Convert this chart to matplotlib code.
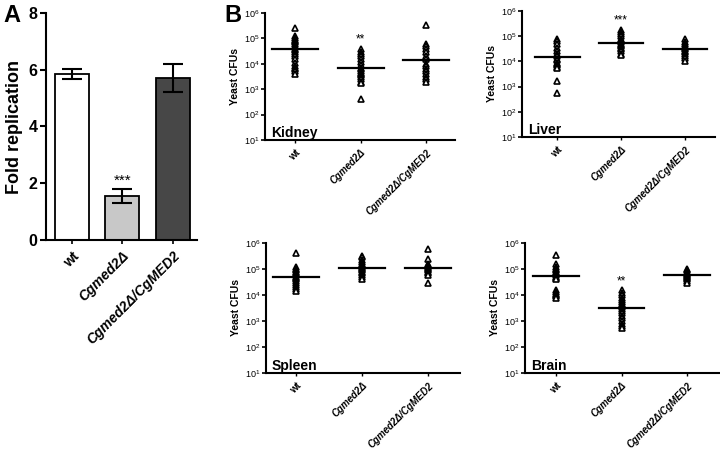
import numpy as np
import matplotlib
matplotlib.use("Agg")
import matplotlib.pyplot as plt
from matplotlib.ticker import FixedLocator, NullLocator

plt.rcParams['font.family'] = ['Liberation Sans', 'DejaVu Sans']
plt.rcParams['mathtext.fontset'] = 'custom'
plt.rcParams['mathtext.rm'] = 'Liberation Sans'

# Panel A: fold replication
strains = ['wt', 'Cgmed2Δ', 'Cgmed2Δ/CgMED2']
fold_mean = [5.85, 1.55, 5.7]
fold_err = [0.18, 0.25, 0.5]
bar_colors = ['white', '#c8c8c8', '#474747']

# Panel B: yeast CFUs per organ (wt, Cgmed2Δ, Cgmed2Δ/CgMED2)
kidney = [
    [2.6e5, 1.2e5, 1e5, 9e4, 8e4, 7e4, 6e4, 5e4, 4.5e4, 4e4, 3.5e4, 3e4, 2.5e4, 2e4,
     1.5e4, 1.1e4, 8e3, 7e3, 6e3, 5e3, 4e3],
    [4e4, 3e4, 2.5e4, 2e4, 1.5e4, 1.2e4, 9e3, 7e3, 6e3, 5e3, 4.5e3, 4e3, 3.5e3, 3e3,
     2.5e3, 2e3, 1.7e3, 4.2e2],
    [3.4e5, 6e4, 5e4, 4e4, 3e4, 2e4, 1.5e4, 1e4, 8e3, 6e3, 5e3, 4e3, 3e3, 2.5e3, 2e3],
]
liver = [
    [8e4, 6.5e4, 5e4, 3.5e4, 2.5e4, 2e4, 1.6e4, 1.3e4, 1.1e4, 9e3, 8e3, 7e3, 6e3, 5.5e3,
     1.7e3, 5.5e2],
    [1.8e5, 1.5e5, 1.2e5, 1e5, 8e4, 7e4, 6e4, 5e4, 4.5e4, 4e4, 3.5e4, 3e4, 2.5e4, 2e4, 1.8e4],
    [8e4, 6e4, 5e4, 4e4, 3.5e4, 3e4, 2.7e4, 2.4e4, 2e4, 1.7e4, 1.4e4, 1e4],
]
spleen = [
    [4.2e5, 1.2e5, 1e5, 9e4, 8e4, 7e4, 6e4, 5e4, 4.5e4, 4e4, 3.5e4, 3e4, 2.5e4, 2e4,
     1.7e4, 1.4e4],
    [3.3e5, 2.8e5, 2.3e5, 1.9e5, 1.6e5, 1.4e5, 1.2e5, 1.1e5, 1e5, 9e4, 8e4, 7e4, 6e4,
     5e4, 4.3e4],
    [6e5, 2.5e5, 1.6e5, 1.4e5, 1.2e5, 1.1e5, 1e5, 9e4, 8e4, 7e4, 6e4, 3e4],
]
brain = [
    [3.6e5, 1.6e5, 1.2e5, 1e5, 9e4, 8e4, 7e4, 6e4, 5e4, 4.5e4, 4e4, 1.5e4, 1.3e4, 1.1e4,
     1e4, 9e3, 8e3],
    [1.5e4, 1.2e4, 1e4, 8e3, 6.5e3, 5.5e3, 4.5e3, 4e3, 3.5e3, 3e3, 2.5e3, 2e3, 1.6e3,
     1.3e3, 1e3, 8e2, 6.5e2, 5.5e2],
    [1e5, 9e4, 8e4, 7e4, 6.5e4, 6e4, 5.5e4, 5e4, 4.5e4, 4e4, 3.5e4, 2.8e4],
]
kidney_line = [3.8e4, 6.9e3, 1.45e4]
liver_line = [1.45e4, 5.3e4, 3.1e4]
spleen_line = [5e4, 1.1e5, 1.13e5]
brain_line = [5.2e4, 3.3e3, 6.1e4]
kidney_sig = ['', '**', '']
liver_sig = ['', '***', '']
spleen_sig = ['', '', '']
brain_sig = ['', '**', '']

W, H = 720, 451
fig = plt.figure(figsize=(W / 100, H / 100), dpi=100)


def box(l, t, r, b):
    return [l / W, 1 - b / H, (r - l) / W, (b - t) / H]


def style_spines(ax, lw):
    for s in ['top', 'right']:
        ax.spines[s].set_visible(False)
    for s in ['left', 'bottom']:
        ax.spines[s].set_linewidth(lw)


def tick_labels(ax, size):
    ax.set_xticks(range(3))
    ax.set_xticklabels(strains, rotation=45, ha='right', va='top', rotation_mode='anchor',
                       fontsize=size, fontweight='bold')
    for i, t in enumerate(ax.get_xticklabels()):
        if i > 0:
            t.set_fontstyle('italic')


# ---- Panel A ----
axA = fig.add_axes(box(46, 13, 197, 240))
x = np.arange(3)
axA.bar(x, fold_mean, width=0.67, color=bar_colors, edgecolor='black', linewidth=1.3, zorder=2)
axA.errorbar(x, fold_mean, yerr=fold_err, fmt='none', ecolor='black', elinewidth=1.5,
             capsize=7.5, capthick=1.5, zorder=3)
axA.text(1, fold_mean[1] + fold_err[1] + 0.05, '***', ha='center', va='bottom', fontsize=11)
axA.set_xlim(-0.51, 2.48)
axA.set_ylim(0, 8)
axA.set_yticks([0, 2, 4, 6, 8])
axA.tick_params(axis='y', labelsize=11.5, length=4, width=1.5, pad=2)
axA.tick_params(axis='x', length=3, width=1.2)
for t in axA.get_yticklabels():
    t.set_fontweight('bold')
axA.set_ylabel('Fold replication', fontsize=13, fontweight='bold', labelpad=4)
style_spines(axA, 1.5)
tick_labels(axA, 10)
fig.text(3 / W, 1 - 16 / H, 'A', fontsize=17, fontweight='bold', ha='left', va='center')
fig.text(224 / W, 1 - 16 / H, 'B', fontsize=17, fontweight='bold', ha='left', va='center')

# ---- Panel B ----
panels = [
    ('Kidney', kidney, kidney_line, kidney_sig, (265, 13, 455, 140), (-0.46, 2.44)),
    ('Liver', liver, liver_line, liver_sig, (522, 11, 715, 137), (-0.55, 2.47)),
    ('Spleen', spleen, spleen_line, spleen_sig, (266, 243, 460, 373), (-0.45, 2.48)),
    ('Brain', brain, brain_line, brain_sig, (525, 243, 720, 373), (-0.47, 2.5)),
]
for name, groups, lines, sig, (l, t, r, b), xl in panels:
    ax = fig.add_axes(box(l, t, r, b))
    for i, vals in enumerate(groups):
        ax.plot([i] * len(vals), vals, linestyle='none', marker='^', markersize=4.5,
                markerfacecolor='white', markeredgecolor='black', markeredgewidth=1.2,
                zorder=3)
        ax.plot([i - 0.35, i + 0.35], [lines[i], lines[i]], color='black', lw=1.6, zorder=4)
        if sig[i]:
            ax.text(i, max(vals) * 1.3, sig[i], ha='center', va='bottom', fontsize=8.5)
    ax.set_yscale('log')
    ax.set_ylim(10, 1e6)
    ax.set_xlim(*xl)
    ax.yaxis.set_major_locator(FixedLocator([1e1, 1e2, 1e3, 1e4, 1e5, 1e6]))
    ax.yaxis.set_minor_locator(NullLocator())
    ax.set_yticklabels([r'10$^{%d}$' % k for k in range(1, 7)])
    ax.tick_params(axis='y', labelsize=6.5, length=3, width=1.2, pad=1)
    ax.tick_params(axis='x', length=2, width=1.0)
    ax.set_ylabel('Yeast CFUs', fontsize=7.5, fontweight='bold', labelpad=3)
    style_spines(ax, 1.5)
    tick_labels(ax, 7)
    ax.text(0.03, 0.0, name, transform=ax.transAxes, fontsize=10, fontweight='bold',
            ha='left', va='bottom')

fig.savefig('out.png', dpi=100)
